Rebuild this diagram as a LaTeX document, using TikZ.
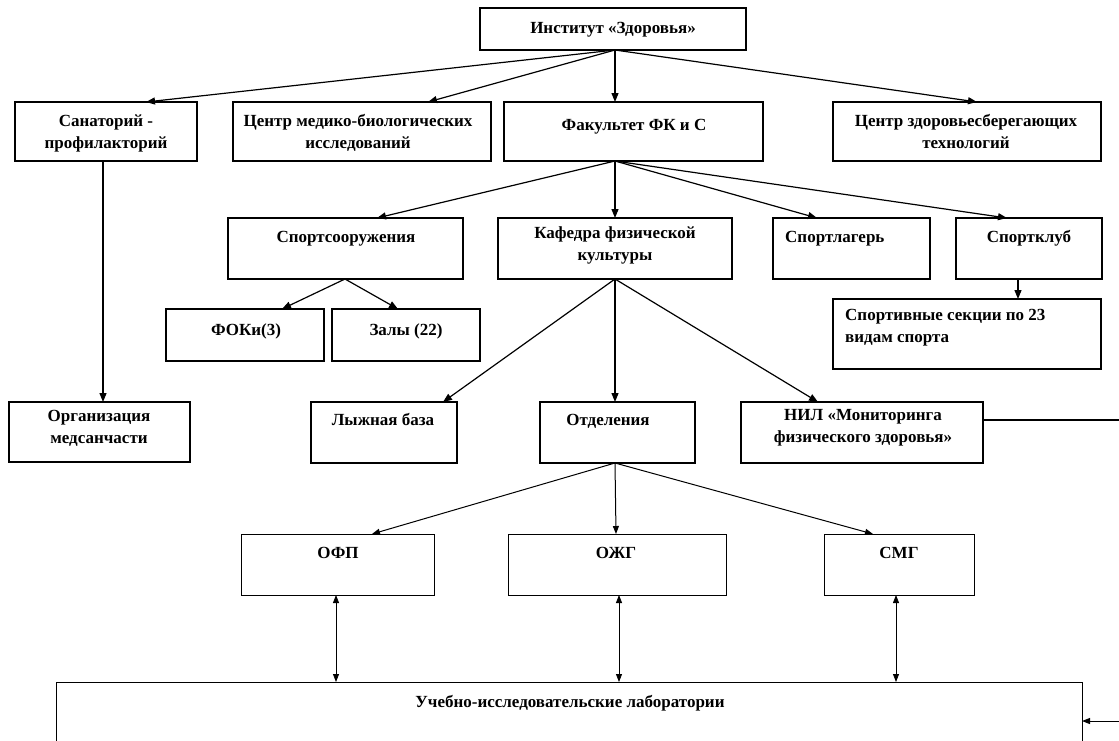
\documentclass[tikz,border=0pt]{standalone}
\usepackage{fontspec}
\setmainfont{Liberation Serif}
\usetikzlibrary{arrows.meta}
\newcommand\bx[5]{\node[box,anchor=north west,minimum width=#4pt-#2pt,minimum height=#5pt-#3pt] (#1) at (#2,#3) {};}
\begin{document}
\begin{tikzpicture}[x=1pt,y=-1pt,
  box/.style={draw, line width=1.2pt, inner sep=0pt, outer sep=0pt},
  txt/.style={font=\fontsize{17}{22}\selectfont\bfseries, inner sep=0pt, align=center, anchor=north, execute at begin node=\strut},
  ltxt/.style={txt, align=left, anchor=north west},
  btxt/.style={font=\fontsize{17}{22}\selectfont\bfseries, inner sep=0pt, anchor=north, execute at begin node=\strut},
  arr/.style={line width=1.2pt, -{Triangle[length=9pt,width=7pt]}},
  thin/.style={line width=0.9pt},
  darr/.style={line width=0.8pt, {Triangle[length=8pt,width=6pt]}-{Triangle[length=8pt,width=6pt]}},
  barr/.style={line width=1pt, -{Triangle[length=8pt,width=6pt]}}]
\useasboundingbox (0,0) rectangle (1119,740);
\clip (0,0) rectangle (1119,740);
% boxes
\bx{inst}{480}{8}{746}{50}
\bx{san}{15}{102}{197}{161}
\bx{cmed}{233}{102}{491}{161}
\bx{fac}{504}{102}{763}{161}
\bx{czd}{833}{102}{1101}{161}
\bx{sport}{228}{218}{463}{279}
\bx{kaf}{498}{218}{732}{279}
\bx{lager}{773}{218}{930}{279}
\bx{klub}{956}{218}{1102}{279}
\bx{secs}{833}{299}{1101}{369}
\bx{foki}{166}{309}{324}{361}
\bx{zaly}{332}{309}{480}{361}
\bx{org}{9}{402}{190}{462}
\bx{lyzh}{311}{402}{457}{463}
\bx{otd}{540}{402}{695}{463}
\bx{nil}{741}{402}{983}{463}
\node[box,thin,anchor=north west,minimum width=193pt,minimum height=61pt] (ofp) at (241,534) {};
\node[box,thin,anchor=north west,minimum width=218pt,minimum height=61pt] (ozg) at (508,534) {};
\node[box,thin,anchor=north west,minimum width=150pt,minimum height=61pt] (smg) at (824,534) {};
\node[box,thin,anchor=north west,minimum width=1026pt,minimum height=100pt] (lab) at (56,682) {};
% texts
\node[txt] (inst-t) at (613,17.6) {Институт «Здоровья»};
\node[txt] (san-t) at (106,114.6) {Санаторий -\\профилакторий};
\node[txt] (cmed-t) at (358,114.6) {Центр медико-биологических\\исследований};
\node[txt] (fac-t) at (634,114.6) {Факультет ФК и С};
\node[txt] (czd-t) at (966,114.6) {Центр здоровьесберегающих\\технологий};
\node[txt] (sport-t) at (346,226.6) {Спортсооружения};
\node[txt] (kaf-t) at (615,226.6) {Кафедра физической\\культуры};
\node[ltxt] (lager-t) at (785,226.6) {Спортлагерь};
\node[txt] (klub-t) at (1029,226.6) {Спортклуб};
\node[ltxt] (secs-t) at (845,308.6) {Спортивные секции по 23\\видам спорта};
\node[txt] (foki-t) at (246,319.6) {ФОКи(3)};
\node[txt] (zaly-t) at (406,319.6) {Залы (22)};
\node[txt] (org-t) at (99,409.6) {Организация\\медсанчасти};
\node[txt] (lyzh-t) at (383,409.6) {Лыжная база};
\node[txt] (otd-t) at (608,409.6) {Отделения};
\node[txt] (nil-t) at (863,409.6) {НИЛ «Мониторинга\\физического здоровья»};
\node[btxt] (ofp-t) at (338,542.6) {ОФП};
\node[btxt] (ozg-t) at (616,542.6) {ОЖГ};
\node[btxt] (smg-t) at (899,542.6) {СМГ};
\node[btxt] (lab-t) at (570,691.6) {Учебно-исследовательские лаборатории};
% connectors from Institut
\draw[arr] ([xshift=135pt]inst.south west) -- ([xshift=131pt]san.north west);
\draw[arr] ([xshift=135pt]inst.south west) -- ([xshift=195pt]cmed.north west);
\draw[arr] ([xshift=135pt]inst.south west) -- ([xshift=111pt]fac.north west);
\draw[arr] ([xshift=135pt]inst.south west) -- ([xshift=144pt]czd.north west);
% Sanatorium
\draw[arr] ([xshift=88pt]san.south west) -- ([xshift=94pt]org.north west);
% Faculty
\draw[arr] ([xshift=111pt]fac.south west) -- ([xshift=149pt]sport.north west);
\draw[arr] ([xshift=111pt]fac.south west) -- ([xshift=117pt]kaf.north west);
\draw[arr] ([xshift=111pt]fac.south west) -- ([xshift=44pt]lager.north west);
\draw[arr] ([xshift=111pt]fac.south west) -- ([xshift=51pt]klub.north west);
% Sportsooruzheniya
\draw[arr] ([xshift=117pt]sport.south west) -- ([xshift=116pt]foki.north west);
\draw[arr] ([xshift=117pt]sport.south west) -- ([xshift=66pt]zaly.north west);
% Sportklub
\draw[arr] ([xshift=62pt]klub.south west) -- ([xshift=185pt]secs.north west);
% Kafedra
\draw[arr] ([xshift=117pt]kaf.south west) -- ([xshift=132pt]lyzh.north west);
\draw[arr] ([xshift=117pt]kaf.south west) -- ([xshift=75pt]otd.north west);
\draw[arr] ([xshift=117pt]kaf.south west) -- ([xshift=77pt]nil.north west);
% NIL line to the right
\coordinate (nilend) at (1119,420);
\draw[line width=1.2pt] ([yshift=-18pt]nil.north east) -- (nilend);
% Otdeleniya
\draw[barr] ([xshift=75pt]otd.south west) -- ([xshift=131pt]ofp.north west);
\draw[barr] ([xshift=75pt]otd.south west) -- ([xshift=108pt]ozg.north west);
\draw[barr] ([xshift=75pt]otd.south west) -- ([xshift=49pt]smg.north west);
% double arrows
\draw[darr] ([xshift=95pt]ofp.south west) -- ([xshift=280pt]lab.north west);
\draw[darr] ([xshift=111pt]ozg.south west) -- ([xshift=563pt]lab.north west);
\draw[darr] ([xshift=72pt]smg.south west) -- ([xshift=840pt]lab.north west);
% arrow into lab
\coordinate (labin) at (1119,721);
\draw[barr] (labin) -- ([yshift=-39pt]lab.north east);
\end{tikzpicture}
\end{document}
